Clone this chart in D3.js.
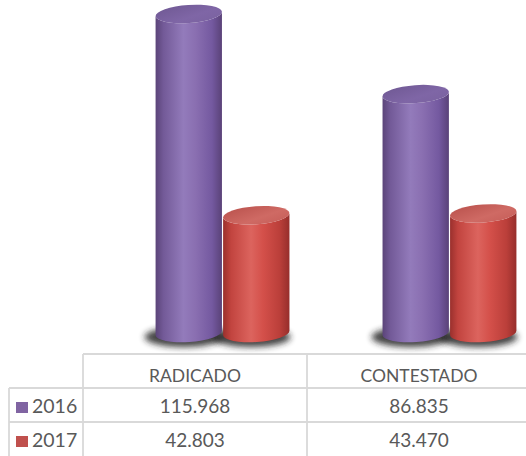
<!DOCTYPE html>
<html><head><meta charset="utf-8">
<script src="https://cdn.jsdelivr.net/npm/d3@7/dist/d3.min.js"></script>
<style>body{margin:0;background:#fff}svg{display:block}</style>
</head><body>
<script>
const categories = ["RADICADO", "CONTESTADO"];
const series = ["2016", "2017"];
const values2016 = [115968, 86835];
const values2017 = [42803, 43470];
const valueLabels2016 = ["115.968", "86.835"];
const valueLabels2017 = ["42.803", "43.470"];

const W = 526, H = 456;
const svg = d3.select("body").append("svg").attr("width", W).attr("height", H);
const defs = svg.append("defs");

const pal = {
  "2016": {body:["#5b4479","#735a98","#937bbb","#8a6fb1","#7459a0","#5a4278"], top:["#6f5893","#7f66a6","#7a62a0"], key:"#8064A2"},
  "2017": {body:["#9a302d","#c2443f","#dc645e","#d4504a","#bb3f3a","#962e2b"], top:["#b9514c","#cf6a64","#c65e59"], key:"#C0504D"}
};
series.forEach((s,i) => {
  const g = defs.append("linearGradient").attr("id","body"+i).attr("x1","0").attr("x2","1").attr("y1","0").attr("y2","0");
  [0,0.12,0.42,0.6,0.85,1].forEach((o,k)=>g.append("stop").attr("offset",o).attr("stop-color",pal[s].body[k]));
  const t = defs.append("linearGradient").attr("id","top"+i).attr("x1","0").attr("x2","1").attr("y1","0").attr("y2","1");
  [0,0.6,1].forEach((o,k)=>t.append("stop").attr("offset",o).attr("stop-color",pal[s].top[k]));
});
const blur = defs.append("filter").attr("id","blur").attr("x","-50%").attr("y","-100%").attr("width","200%").attr("height","300%");
blur.append("feGaussianBlur").attr("stdDeviation",3);

const x0 = d3.scaleBand().domain(categories).range([155, 517]).paddingInner(0.405);
const x1 = d3.scaleBand().domain(series).range([0, x0.bandwidth()]);
const y = d3.scaleLinear().domain([0, 115968]).range([333, 14]);

const data = [];
categories.forEach((c,ci) => {
  data.push({c, s:"2016", si:0, v:values2016[ci]});
  data.push({c, s:"2017", si:1, v:values2017[ci]});
});

const rx = x1.bandwidth()/2 - 0.5, ry = 9, th = -4;
const rad = th*Math.PI/180, cs = Math.cos(rad), sn = Math.sin(rad);
const base = y(0);

// shadows
svg.append("g").selectAll("ellipse").data(data).join("ellipse")
  .attr("cx", d => x0(d.c) + x1(d.s) + x1.bandwidth()/2 - 5)
  .attr("cy", base + 4)
  .attr("rx", rx + 6).attr("ry", ry + 1)
  .attr("fill", "#222").attr("opacity", 0.85)
  .attr("filter", "url(#blur)");

const cyl = svg.append("g").selectAll("g").data(data).join("g");
cyl.append("path")
  .attr("d", d => {
    const cx = x0(d.c) + x1(d.s) + x1.bandwidth()/2, ty = y(d.v);
    const lx = cx - rx*cs, ly = -rx*sn, rX = cx + rx*cs;
    return `M${lx},${ty+ly} L${lx},${base+ly} A${rx},${ry} ${th} 0 0 ${rX},${base-ly} L${rX},${ty-ly} A${rx},${ry} ${th} 0 1 ${lx},${ty+ly} Z`;
  })
  .attr("fill", d => `url(#body${d.si})`);
cyl.append("ellipse")
  .attr("transform", d => `translate(${x0(d.c) + x1(d.s) + x1.bandwidth()/2},${y(d.v)}) rotate(${th})`)
  .attr("rx", rx).attr("ry", ry)
  .attr("fill", d => `url(#top${d.si})`);

// data table
const tbl = svg.append("g");
const lineC = "#d9d9d9";
const colL = 83, colM = 307, colR = 531, left = 9;
const rowY = [354, 388, 422, 456];
const hl = (x1_, x2_, yy) => tbl.append("line").attr("x1",x1_).attr("x2",x2_).attr("y1",yy).attr("y2",yy).attr("stroke",lineC).attr("stroke-width",1.8);
const vl = (xx, y1_, y2_) => tbl.append("line").attr("x1",xx).attr("x2",xx).attr("y1",y1_).attr("y2",y2_).attr("stroke",lineC).attr("stroke-width",1.8);
hl(colL, colR, rowY[0]); hl(left, colR, rowY[1]); hl(left, colR, rowY[2]);
vl(left, rowY[1], H); vl(colL, rowY[0], H); vl(colM, rowY[0], H);

const colCenters = [(colL+colM)/2, (colM+colR)/2];
const font = "Lato, 'Open Sans', sans-serif";
tbl.selectAll("text.cat").data(categories).join("text")
  .attr("x", (d,i) => colCenters[i]).attr("y", 382)
  .attr("text-anchor","middle").attr("font-family",font).attr("font-size",17.5).attr("fill","#595959").text(d=>d);
const rows = [valueLabels2016, valueLabels2017];
series.forEach((s,si) => {
  const yy = [413, 447][si];
  tbl.append("rect").attr("x",16).attr("y",yy-11).attr("width",12).attr("height",11).attr("fill",pal[s].key);
  tbl.append("text").attr("x",32).attr("y",yy).attr("font-family",font).attr("font-size",19.5).attr("fill","#595959").text(s);
  rows[si].forEach((t,ci) => tbl.append("text").attr("x",colCenters[ci]).attr("y",yy).attr("text-anchor","middle")
    .attr("font-family",font).attr("font-size",19).attr("fill","#595959").text(t));
});
</script>
</body></html>
